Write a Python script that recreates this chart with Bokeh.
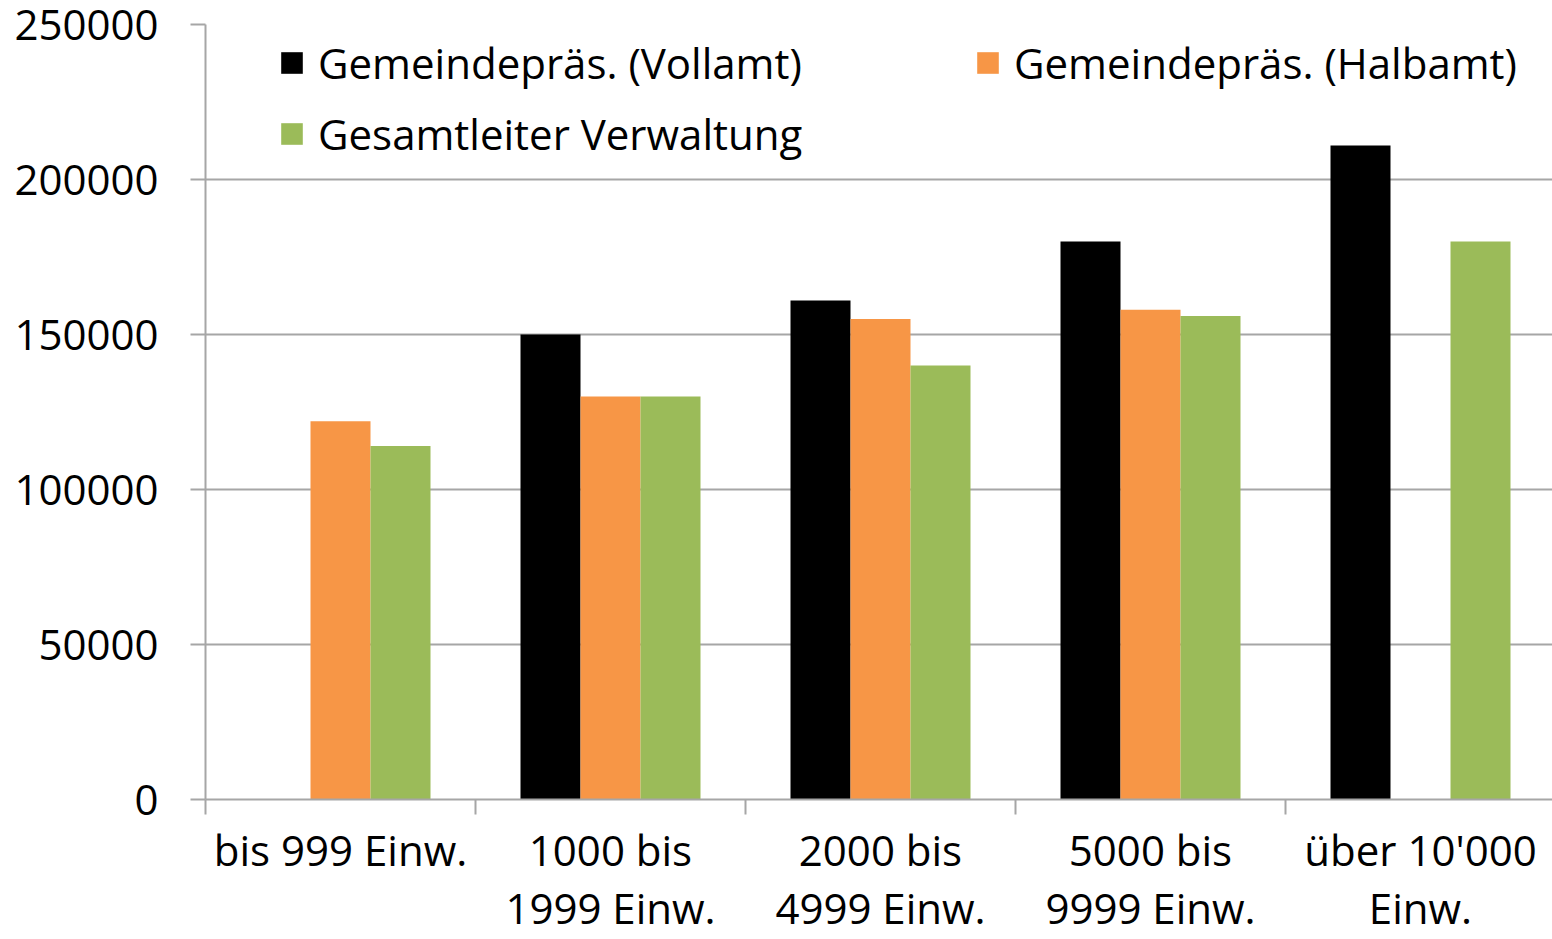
import math
from bokeh.plotting import figure
from bokeh.models import (ColumnDataSource, Range1d, FixedTicker, NumeralTickFormatter,
                          Legend, LegendItem)
from bokeh.transform import dodge
from bokeh.embed import file_html
from bokeh.resources import INLINE

nan = float("nan")

categories = ["bis 999 Einw.", "1000 bis\n1999 Einw.", "2000 bis\n4999 Einw.",
              "5000 bis\n9999 Einw.", "über 10'000\nEinw."]
series_names = ["Gemeindepräs. (Vollamt)", "Gemeindepräs. (Halbamt)", "Gesamtleiter Verwaltung"]
vollamt = [nan, 150000, 161000, 180000, 211000]
halbamt = [122000, 130000, 155000, 158000, nan]
gesamtleiter = [114000, 130000, 140000, 156000, 180000]
y_ticks = [0, 50000, 100000, 150000, 200000, 250000]

colors = ["#000000", "#F79646", "#9BBB59"]
grid_color = "#a6a6a6"
font = "Open Sans"
fsize = "42px"

centers = [i + 0.5 for i in range(len(categories))]
boundaries = list(range(len(categories) + 1))
source = ColumnDataSource(dict(x=centers, vollamt=vollamt, halbamt=halbamt, gesamt=gesamtleiter))

FIG_W, FIG_H = 1552, 939
LEFT, TOP, BOTTOM = 205, 24, 139
frame_w = FIG_W - LEFT
cat_px = 270.0

p = figure(width=FIG_W, height=FIG_H,
           x_range=Range1d(0, frame_w / cat_px), y_range=Range1d(0, 250000),
           output_backend="svg", toolbar_location=None,
           min_border_left=LEFT, min_border_right=0, min_border_top=TOP,
           min_border_bottom=BOTTOM)
p.outline_line_color = None
p.background_fill_color = "white"
p.border_fill_color = "white"

bw = 60 / cat_px
renderers = []
for col, off, c in zip(["vollamt", "halbamt", "gesamt"], [-bw, 0, bw], colors):
    r = p.vbar(x=dodge("x", off, range=p.x_range), top=col, width=bw, source=source,
               fill_color=c, line_color=None)
    renderers.append(r)

# x axis
xa = p.xaxis[0]
xa.ticker = FixedTicker(ticks=centers, minor_ticks=boundaries)
xa.major_label_overrides = {c: lab for c, lab in zip(centers, categories)}
xa.major_tick_out = 0
xa.major_tick_in = 0
xa.minor_tick_out = 15
xa.minor_tick_in = 0
xa.minor_tick_line_color = grid_color
xa.minor_tick_line_width = 2
xa.axis_line_color = grid_color
xa.axis_line_width = 2
xa.major_label_text_font = font
xa.major_label_text_font_size = fsize
xa.major_label_text_color = "black"
xa.major_label_text_line_height = 1.03
xa.major_label_standoff = 6

# y axis
ya = p.yaxis[0]
ya.ticker = FixedTicker(ticks=y_ticks)
ya.formatter = NumeralTickFormatter(format="0")
ya.major_tick_out = 15
ya.major_tick_in = 0
ya.major_tick_line_color = grid_color
ya.major_tick_line_width = 2
ya.minor_tick_line_color = None
ya.axis_line_color = grid_color
ya.axis_line_width = 2
ya.major_label_text_font = font
ya.major_label_text_font_size = fsize
ya.major_label_text_color = "black"
ya.major_label_standoff = 32

p.xgrid.visible = False
p.ygrid.ticker = FixedTicker(ticks=y_ticks)
p.ygrid.grid_line_color = grid_color
p.ygrid.grid_line_width = 2

def make_legend(items, loc):
    return Legend(items=items, location=loc, orientation="vertical",
                  label_text_font=font, label_text_font_size=fsize,
                  label_text_color="black",
                  glyph_width=27, glyph_height=27, label_standoff=13,
                  spacing=14, padding=0, margin=0,
                  border_line_color=None, background_fill_alpha=0)

leg1 = make_legend([LegendItem(label=series_names[0], renderers=[renderers[0]]),
                    LegendItem(label=series_names[2], renderers=[renderers[2]])], (73, 637))
leg2 = make_legend([LegendItem(label=series_names[1], renderers=[renderers[1]])], (769, 708))
p.add_layout(leg1)
p.add_layout(leg2)

open("out.html", "w").write(file_html(p, INLINE))
